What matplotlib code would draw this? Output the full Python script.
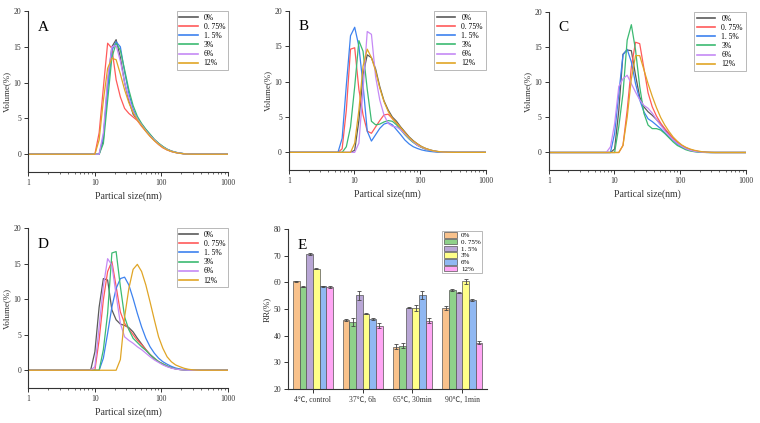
import matplotlib
matplotlib.use("Agg")
import matplotlib.pyplot as plt
import numpy as np

plt.rcParams['font.family'] = ['Liberation Serif', 'Noto Sans CJK SC', 'DejaVu Sans']

# ---------------- data ----------------
sizes = [1.0, 5.615, 6.503, 7.531, 8.721, 10.10, 11.70, 13.54, 15.69, 18.17, 21.04,
         24.36, 28.21, 32.67, 37.84, 43.82, 50.75, 58.77, 68.06, 78.82, 91.28,
         105.7, 122.4, 141.8, 164.2, 190.1, 220.2, 255.0, 295.3, 342.0, 396.1, 1000.0]

labels = ["0%", "0. 75%", "1. 5%", "3%", "6%", "12%"]

A_0 = [0]*7 + [2.0, 10.0, 15.0, 16.0, 13.5, 10.0, 7.5, 5.6, 4.8, 4.1, 3.4, 2.7, 2.0, 1.5, 1.0, 0.65, 0.4, 0.25, 0.14, 0.07, 0.03, 0.01, 0, 0, 0]
A_075 = [0]*6 + [3.0, 9.3, 15.5, 14.8, 10.4, 8.0, 6.4, 5.7, 5.2, 4.7, 3.9, 3.2, 2.5, 1.9, 1.35, 0.9, 0.6, 0.38, 0.24, 0.14, 0.07, 0.03, 0.01, 0, 0, 0]
A_15 = [0]*7 + [2.5, 9.0, 14.5, 15.7, 15.0, 11.5, 8.5, 6.3, 5.0, 4.2, 3.4, 2.7, 2.0, 1.5, 1.05, 0.7, 0.45, 0.28, 0.16, 0.08, 0.03, 0.01, 0, 0, 0]
A_3 = [0]*7 + [1.5, 7.5, 13.5, 15.5, 14.5, 11.8, 9.0, 6.8, 5.3, 4.3, 3.5, 2.8, 2.1, 1.55, 1.1, 0.72, 0.46, 0.28, 0.16, 0.08, 0.03, 0.01, 0, 0, 0]
A_6 = [0]*7 + [3.0, 10.5, 15.0, 15.2, 13.0, 10.0, 7.8, 6.0, 4.9, 4.1, 3.3, 2.6, 2.0, 1.45, 1.0, 0.66, 0.42, 0.26, 0.15, 0.07, 0.03, 0.01, 0, 0, 0]
A_12 = [0]*6 + [2.0, 7.5, 12.0, 13.4, 13.2, 11.2, 9.0, 7.2, 5.8, 4.8, 4.0, 3.2, 2.5, 1.9, 1.4, 0.95, 0.62, 0.4, 0.24, 0.13, 0.06, 0.02, 0.01, 0, 0, 0]

B_0 = [0]*5 + [0.3, 4.5, 11.0, 13.8, 13.4, 11.8, 9.3, 7.3, 6.0, 5.0, 4.4, 3.6, 2.9, 2.2, 1.65, 1.2, 0.82, 0.55, 0.35, 0.2, 0.11, 0.05, 0.02, 0.01, 0, 0, 0]
B_075 = [0]*2 + [0.5, 6.0, 14.6, 14.8, 8.9, 5.3, 3.0, 2.7, 3.6, 4.5, 5.3, 5.4, 4.8, 4.1, 3.4, 2.7, 2.0, 1.5, 1.0, 0.7, 0.45, 0.27, 0.15, 0.08, 0.03, 0.01, 0, 0, 0, 0]
B_15 = [0]*2 + [2.0, 9.5, 16.5, 17.7, 15.0, 9.5, 3.0, 1.6, 2.5, 3.4, 4.0, 4.2, 3.9, 3.2, 2.5, 1.75, 1.2, 0.8, 0.55, 0.35, 0.22, 0.13, 0.07, 0.03, 0.01, 0, 0, 0, 0, 0]
B_3 = [0]*3 + [0.8, 3.6, 9.3, 15.8, 14.3, 8.9, 4.4, 3.9, 4.0, 4.3, 4.5, 4.4, 3.9, 3.2, 2.5, 1.9, 1.4, 1.0, 0.7, 0.45, 0.28, 0.16, 0.08, 0.03, 0.01, 0, 0, 0, 0]
B_6 = [0]*6 + [1.3, 8.9, 17.1, 16.7, 10.7, 7.4, 5.3, 4.1, 3.7, 3.6, 3.2, 2.6, 2.0, 1.5, 1.0, 0.75, 0.48, 0.3, 0.17, 0.09, 0.04, 0.01, 0, 0, 0, 0]
B_12 = [0]*5 + [1.3, 6.0, 12.2, 14.6, 13.4, 11.5, 9.1, 7.2, 5.8, 4.8, 4.2, 3.5, 2.8, 2.1, 1.6, 1.2, 0.8, 0.55, 0.35, 0.2, 0.12, 0.06, 0.02, 0.01, 0, 0, 0]

C_0 = [0]*5 + [0.5, 6.0, 14.0, 14.6, 14.5, 11.0, 7.9, 6.5, 5.8, 5.3, 4.7, 4.0, 3.3, 2.6, 2.0, 1.4, 1.0, 0.65, 0.4, 0.23, 0.12, 0.05, 0.02, 0, 0, 0, 0]
C_075 = [0]*7 + [1.0, 6.0, 12.2, 15.7, 15.5, 12.0, 8.5, 6.5, 5.2, 4.2, 3.4, 2.7, 2.0, 1.5, 1.0, 0.7, 0.45, 0.28, 0.16, 0.08, 0.03, 0.01, 0, 0, 0]
C_15 = [0]*5 + [2.7, 8.4, 13.9, 14.7, 12.9, 9.8, 7.5, 5.8, 4.8, 4.4, 3.9, 3.4, 2.8, 2.2, 1.7, 1.2, 0.8, 0.5, 0.3, 0.16, 0.08, 0.03, 0.01, 0, 0, 0, 0]
C_3 = [0]*6 + [3.7, 8.4, 16.0, 18.2, 14.6, 9.4, 5.6, 3.9, 3.4, 3.4, 3.2, 2.7, 2.1, 1.5, 1.0, 0.7, 0.4, 0.22, 0.12, 0.05, 0.02, 0, 0, 0, 0, 0]
C_6 = [0]*4 + [0.8, 4.1, 9.4, 10.5, 11.0, 9.8, 8.6, 7.5, 6.7, 6.3, 5.6, 4.7, 3.9, 3.1, 2.4, 1.8, 1.3, 0.9, 0.55, 0.33, 0.18, 0.09, 0.04, 0.01, 0, 0, 0, 0]
C_12 = [0]*7 + [1.0, 5.0, 10.5, 13.8, 13.8, 11.8, 9.8, 8.0, 6.4, 5.0, 3.9, 3.0, 2.2, 1.6, 1.1, 0.75, 0.5, 0.32, 0.2, 0.1, 0.05, 0.02, 0, 0, 0]

D_0 = [0]*5 + [2.6, 8.9, 12.9, 12.7, 8.5, 7.1, 6.5, 6.3, 6.0, 5.4, 4.5, 3.7, 2.9, 2.2, 1.6, 1.2, 0.85, 0.55, 0.35, 0.2, 0.1, 0.05, 0.02, 0, 0, 0, 0]
D_075 = [0]*6 + [4.3, 9.9, 13.9, 15.3, 11.8, 8.2, 6.6, 5.8, 5.0, 4.2, 3.6, 2.9, 2.2, 1.7, 1.2, 0.9, 0.6, 0.38, 0.22, 0.12, 0.06, 0.02, 0, 0, 0, 0]
D_15 = [0]*7 + [1.7, 5.2, 8.9, 11.5, 12.9, 13.1, 12.0, 10.1, 8.0, 6.1, 4.5, 3.3, 2.4, 1.7, 1.2, 0.85, 0.55, 0.32, 0.18, 0.09, 0.04, 0.01, 0, 0, 0]
D_3 = [0]*7 + [2.9, 8.0, 16.5, 16.7, 11.8, 7.5, 5.7, 4.5, 3.9, 3.3, 2.8, 2.2, 1.7, 1.2, 0.9, 0.6, 0.35, 0.2, 0.1, 0.05, 0.02, 0, 0, 0, 0]
D_6 = [0]*5 + [0.5, 6.1, 11.8, 15.7, 14.8, 10.6, 6.6, 4.7, 4.2, 3.8, 3.3, 2.9, 2.4, 1.9, 1.45, 1.1, 0.75, 0.5, 0.3, 0.17, 0.09, 0.04, 0.01, 0, 0, 0, 0]
D_12 = [0]*11 + [1.5, 7.5, 11.5, 14.2, 14.9, 13.9, 12.0, 9.6, 7.1, 4.7, 3.1, 1.9, 1.2, 0.75, 0.5, 0.28, 0.14, 0.06, 0.02, 0, 0]

# Panel E (RR %)
groups = ["4℃, control", "37℃, 6h", "65℃, 30min", "90℃, 1min"]
rr_0 = [60.4, 45.9, 35.9, 50.4]
rr_075 = [58.4, 45.2, 36.3, 57.1]
rr_15 = [70.8, 55.1, 50.5, 56.2]
rr_3 = [65.2, 48.3, 50.4, 60.4]
rr_6 = [58.6, 46.2, 55.2, 53.4]
rr_12 = [58.2, 43.8, 45.7, 37.4]
err_0 = [0.2, 0.3, 0.9, 0.9]
err_075 = [0.2, 1.5, 0.9, 0.4]
err_15 = [0.4, 1.7, 0.2, 0.3]
err_3 = [0.3, 0.3, 1.2, 1.0]
err_6 = [0.2, 0.3, 1.6, 0.2]
err_12 = [0.3, 1.0, 1.0, 0.7]

line_colors = ["#5a5a5a", "#ff5a5a", "#3d82ef", "#3cba72", "#c58af5", "#e0a526"]
bar_colors = ["#f9c28c", "#8fd18a", "#b9a7d6", "#ffff88", "#90b8f2", "#ffa6f4"]

# ---------------- figure ----------------
fig = plt.figure(figsize=(7.6, 4.23), dpi=100)

def style_axes(ax):
    for s in ("top", "right"):
        ax.spines[s].set_visible(False)
    for s in ("left", "bottom"):
        ax.spines[s].set_color("#333333")
        ax.spines[s].set_linewidth(0.8)
    ax.tick_params(axis="both", which="major", direction="out", length=3, width=0.7,
                   labelsize=5.5, colors="#333333", pad=2)
    ax.tick_params(axis="both", which="minor", direction="out", length=1.6, width=0.5,
                   colors="#333333")

def psd_panel(rect, letter, series):
    ax = fig.add_axes(rect)
    for ys, c, lab in zip(series, line_colors, labels):
        ax.plot(sizes, ys, color=c, lw=0.9, label=lab)
    ax.set_xscale("log")
    ax.set_xlim(1, 1000)
    ax.set_ylim(-2.5, 20)
    ax.set_yticks([0, 5, 10, 15, 20])
    ax.set_xticks([1, 10, 100, 1000])
    ax.set_xticklabels(["1", "10", "100", "1000"])
    style_axes(ax)
    ax.set_xlabel("Partical size(nm)", fontsize=7, color="#333333", labelpad=3)
    ax.set_ylabel("Volume(%)", fontsize=6.5, color="#333333", labelpad=1.5)
    ax.text(0.05, 0.9, letter, transform=ax.transAxes, fontsize=11, va="center", ha="left")
    leg = ax.legend(loc="upper right", bbox_to_anchor=(1.0, 1.0), fontsize=5.5, frameon=True,
                    fancybox=False, edgecolor="#999999", handlelength=2.4, handletextpad=0.8,
                    labelspacing=0.15, borderpad=0.35, borderaxespad=0.0)
    leg.get_frame().set_linewidth(0.6)
    for ln in leg.get_lines():
        ln.set_linewidth(1.2)
    return ax

psd_panel([0.0368, 0.593, 0.263, 0.381], "A", [A_0, A_075, A_15, A_3, A_6, A_12])
psd_panel([0.380, 0.598, 0.259, 0.376], "B", [B_0, B_075, B_15, B_3, B_6, B_12])
psd_panel([0.722, 0.598, 0.259, 0.3735], "C", [C_0, C_075, C_15, C_3, C_6, C_12])
psd_panel([0.0368, 0.0827, 0.263, 0.378], "D", [D_0, D_075, D_15, D_3, D_6, D_12])

# Panel E
axE = fig.add_axes([0.379, 0.0804, 0.262, 0.378])
x = np.arange(len(groups))
w = 0.8 / 6
rr_all = [rr_0, rr_075, rr_15, rr_3, rr_6, rr_12]
err_all = [err_0, err_075, err_15, err_3, err_6, err_12]
for i, (vals, errs, c, lab) in enumerate(zip(rr_all, err_all, bar_colors, labels)):
    pos = x - 0.4 + w * (i + 0.5)
    axE.bar(pos, vals, width=w, bottom=0, color=c, edgecolor="#555555", linewidth=0.5, label=lab,
            yerr=errs, error_kw=dict(ecolor="#444444", elinewidth=0.6, capsize=1.6, capthick=0.6))
axE.set_xlim(-0.5, 3.5)
axE.set_ylim(20, 80)
axE.set_yticks([20, 30, 40, 50, 60, 70, 80])
axE.set_xticks(x)
axE.set_xticklabels(groups)
style_axes(axE)
axE.tick_params(axis="x", labelsize=5.5)
axE.set_ylabel("RR(%)", fontsize=6.5, color="#333333", labelpad=1.5)
axE.text(0.05, 0.9, "E", transform=axE.transAxes, fontsize=11, va="center", ha="left")
legE = axE.legend(loc="upper right", bbox_to_anchor=(0.975, 0.99), fontsize=5.0, frameon=True,
                  fancybox=False, edgecolor="#999999", handlelength=1.9, handleheight=0.85,
                  handletextpad=0.6, labelspacing=0.08, borderpad=0.2, borderaxespad=0.0)
legE.get_frame().set_linewidth(0.6)

fig.savefig("out.png", dpi=100)
